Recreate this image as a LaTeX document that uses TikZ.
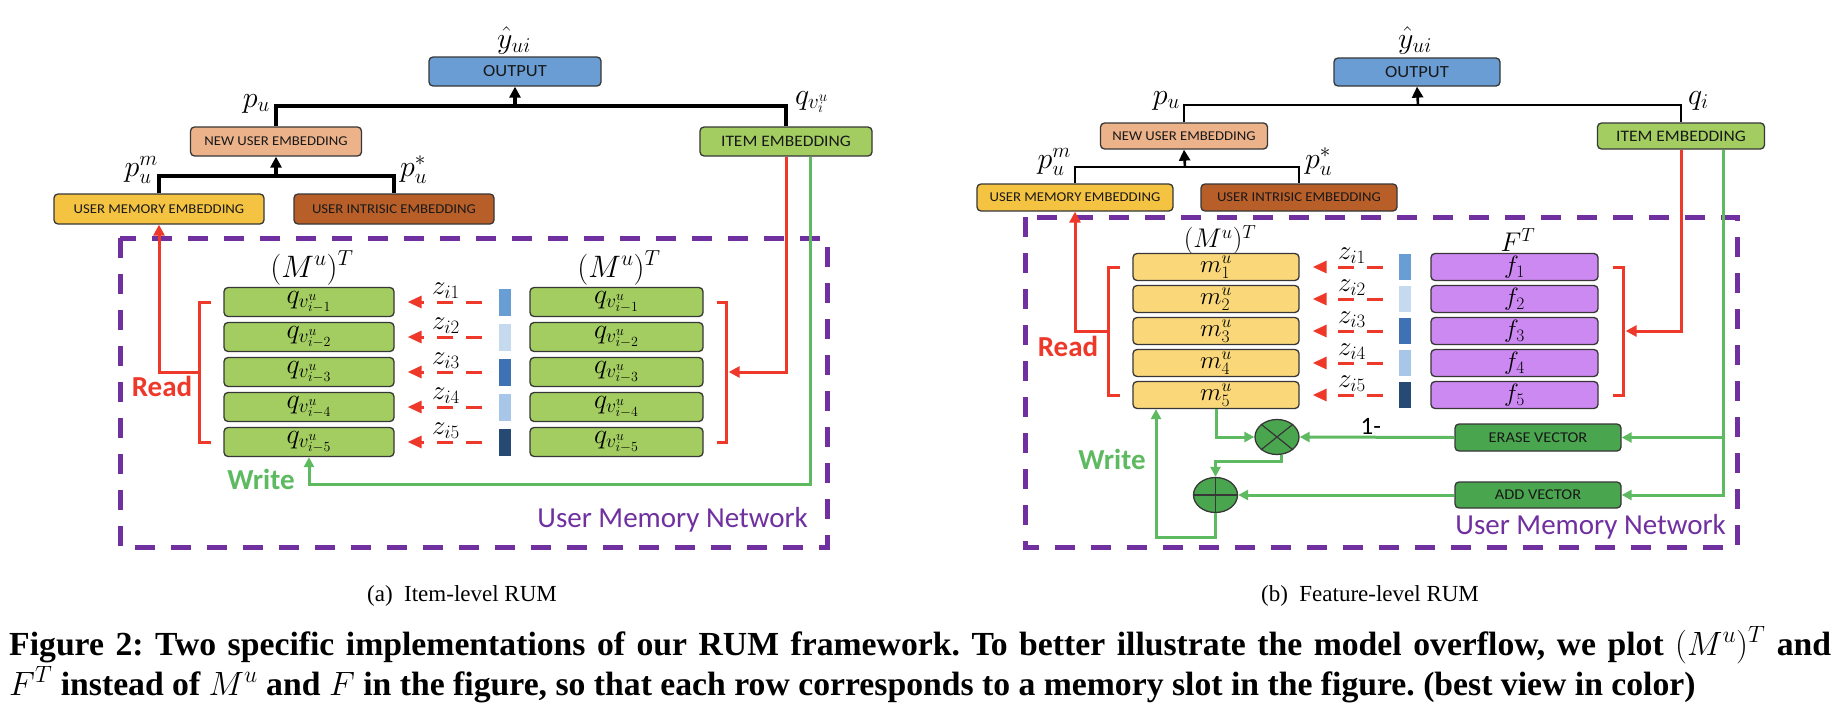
\RequirePackage{fix-cm}
\documentclass[tikz,border=0pt]{standalone}
\usepackage{fontspec}
\setmainfont{Liberation Serif}
\newfontfamily\carl{Carlito}
\newfontfamily\carlw{Carlito}[FakeStretch=1.09]
\usetikzlibrary{arrows.meta,shapes.geometric}
\definecolor{outblue}{RGB}{106,157,212}
\definecolor{peach}{RGB}{236,178,138}
\definecolor{memyel}{RGB}{245,195,66}
\definecolor{brownone}{RGB}{184,94,40}
\definecolor{itemgrn}{RGB}{163,205,96}
\definecolor{myel}{RGB}{250,216,122}
\definecolor{fpur}{RGB}{205,137,242}
\definecolor{vecgrn}{RGB}{74,166,78}
\definecolor{redl}{RGB}{238,56,42}
\definecolor{grnl}{RGB}{94,186,96}
\definecolor{umn}{RGB}{112,48,160}
\definecolor{barone}{RGB}{104,158,212}
\definecolor{bartwo}{RGB}{198,218,239}
\definecolor{barthree}{RGB}{62,114,180}
\definecolor{barfour}{RGB}{168,198,232}
\definecolor{barfive}{RGB}{38,74,115}
\definecolor{edge}{RGB}{55,55,55}
\tikzset{
  box/.style={draw=edge, line width=1.3pt, rounded corners=4pt, inner sep=0pt, font=\carlw\fontsize{13.5}{15}\selectfont, text=black!90},
  boxo/.style={box, font=\carlw\fontsize{17}{19}\selectfont},
  boxi/.style={box, font=\carlw\fontsize{16}{18}\selectfont},
  boxv/.style={box, font=\carlw\fontsize{15}{17}\selectfont},
  mrow/.style={draw=edge, line width=1.3pt, rounded corners=4pt, inner sep=0pt, font=\fontsize{28}{30}\selectfont},
  mrows/.style={mrow, font=\fontsize{25}{27}\selectfont},
  vbar/.style={inner sep=0pt, minimum width=12pt},
  blk/.style={line width=3.2pt, draw=black},
  blkarr/.style={blk, -{Triangle[length=11pt,width=11pt]}},
  redln/.style={draw=redl, line width=3pt},
  redarr/.style={redln, -{Triangle[length=11pt,width=11pt]}},
  reddash/.style={redln, dash pattern=on 16pt off 13pt, -{Triangle[length=14pt,width=12pt]}},
  grn/.style={draw=grnl, line width=3pt},
  grnarr/.style={grn, -{Triangle[length=10pt,width=10pt]}},
  umnbox/.style={draw=umn, line width=5pt, dash pattern=on 20pt off 16pt},
  lbl/.style={inner sep=0pt, font=\fontsize{30}{32}\selectfont},
  zlbl/.style={inner sep=0pt, font=\fontsize{27}{29}\selectfont},
  ttl/.style={inner sep=0pt, font=\fontsize{31}{33}\selectfont},
  ttls/.style={inner sep=0pt, font=\fontsize{27}{29}\selectfont},
  rw/.style={inner sep=0pt, font=\carl\bfseries\fontsize{29}{30}\selectfont},
  umntext/.style={inner sep=0pt, text=umn, font=\carl\fontsize{29}{30}\selectfont},
  circ/.style={ellipse, draw=edge, line width=1.3pt, fill=vecgrn, minimum width=44pt, minimum height=35pt, inner sep=0pt},
}
\begin{document}
\frenchspacing
\begin{tikzpicture}[x=1pt,y=-1pt]
\useasboundingbox[fill=white] (0,0) rectangle (1840,728);

% ================= LEFT PANEL =================
\node[boxo, fill=outblue, minimum width=172pt, minimum height=29pt] (out1) at (515,71.5) {OUTPUT};
\node[box, fill=peach, minimum width=171pt, minimum height=29pt] (nue1) at (276,141.5) {NEW USER EMBEDDING};
\node[boxi, fill=itemgrn, minimum width=172pt, minimum height=29pt] (ie1) at (786,141.5) {ITEM EMBEDDING};
\node[box, fill=memyel, minimum width=210pt, minimum height=30pt] (ume1) at (159,209) {USER MEMORY EMBEDDING};
\node[box, fill=brownone, minimum width=200pt, minimum height=30pt] (uie1) at (394,209) {USER INTRISIC EMBEDDING};

\coordinate (j1) at (515,106);
\coordinate (j2) at (276,176);
\draw[blk] (nue1.north) |- (j1) -| (ie1.north);
\draw[blkarr] (j1) -- (out1.south);
\draw[blk] (ume1.north) |- (j2) -| (uie1.north);
\draw[blkarr] (j2) -- (nue1.south);

\node[lbl, anchor=base] (yh1) at (514,48) {$\hat{y}_{ui}$};
\node[lbl, anchor=base east] (pu1) at (270,107) {$p_u$};
\node[lbl, anchor=base west] (qv1) at (795,104) {$q_{v_i^u}$};
\node[lbl, anchor=base east] (pm1) at (158,176) {$p_u^m$};
\node[lbl, anchor=base west] (ps1) at (400,176) {$p_u^*$};

\draw[umnbox] (120,238) rectangle (827,547);

\node[ttl] (mt1) at (312,268) {$(M^u)^T$};
\node[ttl] (mt2) at (619,268) {$(M^u)^T$};

\foreach \k/\c in {1/barone,2/bartwo,3/barthree,4/barfour,5/barfive} {
  \pgfmathsetmacro\yy{302+35*(\k-1)}
  \node[mrow, fill=itemgrn, minimum width=170pt, minimum height=29pt] (l\k) at (309,\yy) {$q_{v^u_{i-\k}}$};
  \node[mrow, fill=itemgrn, minimum width=173pt, minimum height=29pt] (r\k) at (616.5,\yy) {$q_{v^u_{i-\k}}$};
  \node[vbar, fill=\c, minimum height=27pt] (b\k) at (504.5,\yy) {};
  \node[zlbl] (z\k) at (446,\yy-11) {$z_{i\k}$};
  \draw[reddash] ([xshift=-16pt]b\k.west) -- ([xshift=13pt]l\k.east);
}

\draw[redln] ([xshift=-12pt]l1.west) -- ++(-12,0) |- ([xshift=-12pt]l5.west);
\draw[redarr] ([xshift=-24pt]l3.west) -| (ume1.south);
\node[rw, text=redl] (read1) at (162,386) {Read};
\draw[redln] ([xshift=13pt]r1.east) -- ++(10,0) |- ([xshift=13pt]r5.east);
\draw[redarr] (ie1.south) |- ([xshift=25pt]r3.east);
\coordinate (g1) at ([xshift=24pt]ie1.south);
\draw[grnarr] (g1) |- ([yshift=-27pt]l5.south) -- (l5.south);
\node[rw, text=grnl] (write1) at (261,479) {Write};
\node[umntext, anchor=base east] (umn1) at (808,527) {User Memory Network};

% ================= RIGHT PANEL =================
\node[boxo, fill=outblue, minimum width=166pt, minimum height=28pt] (out2) at (1417,72) {OUTPUT};
\node[box, fill=peach, minimum width=167pt, minimum height=26pt] (nue2) at (1184,136) {NEW USER EMBEDDING};
\node[boxi, fill=itemgrn, minimum width=167pt, minimum height=26pt] (ie2) at (1681,136) {ITEM EMBEDDING};
\node[box, fill=memyel, minimum width=196pt, minimum height=27pt] (ume2) at (1075,197.5) {USER MEMORY EMBEDDING};
\node[box, fill=brownone, minimum width=196pt, minimum height=27pt] (uie2) at (1299,197.5) {USER INTRISIC EMBEDDING};

\coordinate (j3) at (1418,105);
\coordinate (j4) at (1185,167);
\draw[blk, line width=2.6pt] (nue2.north) |- (j3) -| (ie2.north);
\draw[blkarr, line width=2.6pt] (j3) -- (out2.south);
\draw[blk, line width=2.6pt] (ume2.north) |- (j4) -| (uie2.north);
\draw[blkarr, line width=2.6pt] (j4) -- (nue2.south);

\node[lbl, anchor=base] (yh2) at (1415,48) {$\hat{y}_{ui}$};
\node[lbl, anchor=base east] (pu2) at (1180,104) {$p_u$};
\node[lbl, anchor=base west] (qi2) at (1688,104) {$q_i$};
\node[lbl, anchor=base east] (pm2) at (1071,168) {$p_u^m$};
\node[lbl, anchor=base west] (ps2) at (1305,168) {$p_u^*$};

\draw[umnbox] (1025,217) rectangle (1737,547);

\node[ttls] (mt3) at (1220,240) {$(M^u)^T$};
\node[ttls] (ft) at (1518,240) {$F^T$};

\foreach \k/\c in {1/barone,2/bartwo,3/barthree,4/barfour,5/barfive} {
  \pgfmathsetmacro\yy{267+32*(\k-1)}
  \node[mrows, fill=myel, minimum width=166pt, minimum height=27pt] (m\k) at (1216,\yy) {$m^u_{\k}$};
  \node[mrows, fill=fpur, minimum width=167pt, minimum height=27pt] (f\k) at (1514.5,\yy) {$f_{\k}$};
  \node[vbar, fill=\c, minimum height=26pt] (c\k) at (1405,\yy) {};
  \node[zlbl] (w\k) at (1352,\yy-11) {$z_{i\k}$};
  \draw[reddash] ([xshift=-16pt]c\k.west) -- ([xshift=13pt]m\k.east);
}

\draw[redln] ([xshift=-12pt]m1.west) -- ++(-12,0) |- ([xshift=-12pt]m5.west);
\draw[redarr] ([xshift=-24pt]m3.west) -| (ume2.south);
\node[rw, text=redl] (read2) at (1068,346) {Read};
\draw[redln] ([xshift=14pt]f1.east) -- ++(11,0) |- ([xshift=14pt]f5.east);
\draw[redarr] (ie2.south) |- ([xshift=27pt]f3.east);

\node[boxv, fill=vecgrn, minimum width=166pt, minimum height=27pt] (erase) at (1538,437.5) {ERASE VECTOR};
\node[boxv, fill=vecgrn, minimum width=166pt, minimum height=26pt] (addv) at (1538,495) {ADD VECTOR};
\coordinate (g2) at ([xshift=42pt]ie2.south);
\draw[grnarr] (g2) |- (addv.east);
\draw[grnarr] (g2 |- erase.east) -- (erase.east);

\node[circ] (mul) at (1277,437) {};
\draw[edge, line width=1.2pt] (mul.north east) -- (mul.south west) (mul.north west) -- (mul.south east);
\node[circ] (plus) at (1215.5,495) {};
\draw[edge, line width=1.2pt] (plus.north) -- (plus.south) (plus.west) -- (plus.east);

\draw[grnarr] (m5.south) |- (mul.west);
\draw[grnarr] ([xshift=4pt]mul.south) -- ++(0,6) -| (plus.north);
\draw[grnarr] (erase.west) -- node[pos=0.54, above=1pt, inner sep=0pt, font=\carl\fontsize{25}{27}\selectfont, text=black] (one) {1-} (mul.east);
\draw[grnarr] (addv.west) -- (plus.east);
\draw[grnarr] (plus.south) -- ++(0,24) -| ([xshift=-60pt]m5.south);
\node[rw, text=grnl] (write2) at (1112,459) {Write};
\node[umntext, anchor=base east] (umn2) at (1726,534) {User Memory Network};

% ================= CAPTIONS =================
\node[inner sep=0pt, font=\fontsize{23}{25}\selectfont] (sa) at (462,596) {(a)\ \ Item-level RUM};
\node[inner sep=0pt, font=\fontsize{23}{25}\selectfont] (sb) at (1370,596) {(b)\ \ Feature-level RUM};
\node[anchor=base west, inner sep=0pt, font=\bfseries\fontsize{33.7}{36}\selectfont] (cap1) at (9,655)
  {\makebox[1822pt][s]{Figure 2: Two specific implementations of our RUM framework. To better illustrate the model overflow, we plot $(M^u)^T$ and}};
\node[anchor=base west, inner sep=0pt, font=\bfseries\fontsize{33.7}{36}\selectfont] (cap2) at (9,695)
  {$F^T$ instead of $M^u$ and $F$ in the figure, so that each row corresponds to a memory slot in the figure. (best view in color)};
\end{tikzpicture}
\end{document}
